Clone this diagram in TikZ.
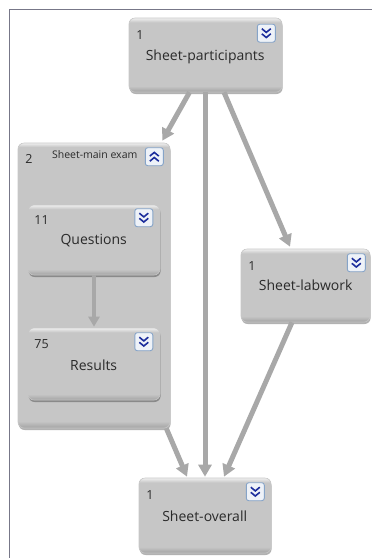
\documentclass[tikz,border=0pt]{standalone}
\usepackage{fontspec}
\setmainfont{Open Sans}
\usetikzlibrary{arrows.meta,calc,shadows}
\definecolor{shtop}{HTML}{EFEFEF}
\definecolor{shmid}{HTML}{C6C6C6}
\definecolor{shbot}{HTML}{A2A2A2}
\definecolor{arr}{HTML}{A8A8A8}
\definecolor{frm}{HTML}{777788}
\definecolor{txt}{HTML}{2A2A2A}
\definecolor{chev}{HTML}{1C2D9C}
\definecolor{icb}{HTML}{86A4C8}
\definecolor{icf}{HTML}{EEF2F8}
\pgfdeclareverticalshading{boxshade}{100bp}{color(0bp)=(shbot); color(25bp)=(shbot); color(29bp)=(shmid); color(72bp)=(shmid); color(75bp)=(shtop); color(100bp)=(shtop)}
\pgfdeclareverticalshading{grpshade}{100bp}{color(0bp)=(shbot); color(25bp)=(shbot); color(26.2bp)=(shmid); color(74.3bp)=(shmid); color(75bp)=(shtop); color(100bp)=(shtop)}
\tikzset{
  sheet/.style={rounded corners=6pt, draw=gray!45, line width=0.6pt, shading=boxshade,
    drop shadow={shadow xshift=0.6pt, shadow yshift=-2pt, opacity=0.3, fill=black}},
  grp/.style={sheet, shading=grpshade},
  num/.style={anchor=west, inner sep=0pt, text=txt, font=\fontsize{12.5}{14}\selectfont},
  title/.style={inner sep=0pt, text=txt, font=\fontsize{14}{16}\selectfont},
  gtitle/.style={inner sep=0pt, text=txt, font=\fontsize{10.5}{12}\selectfont},
  conn/.style={draw=arr, line width=5pt, -{Triangle[width=13pt,length=12pt]}},
  thinconn/.style={draw=arr, line width=4pt, -{Triangle[width=11pt,length=10pt]}},
  pics/btn/.style={code={
    \draw[icb, line width=0.9pt, fill=icf, rounded corners=2.5pt] (-9,-9) rectangle (9,9);
    \draw[chev, line width=1.6pt, line join=miter] (-4.5,-4.5) -- (0,-0.8) -- (4.5,-4.5);
    \draw[chev, line width=1.6pt, line join=miter] (-4.5,0.6) -- (0,4.3) -- (4.5,0.6);
  }}
}
\begin{document}
\begin{tikzpicture}[x=1pt,y=-1pt]
\useasboundingbox (0,0) rectangle (372,558);
\draw[frm, line width=1pt] (9.5,558) -- (9.5,9.5) -- (372,9.5);

% nodes
\node[sheet, minimum width=153pt, minimum height=74pt] (P) at (205.5,55) {};
\node[grp, minimum width=152pt, minimum height=285pt] (G) at (94,285.5) {};
\node[sheet, minimum width=132pt, minimum height=70pt] (Q) at (94,240) {};
\node[sheet, minimum width=132pt, minimum height=72pt] (R) at (94,364) {};
\node[sheet, minimum width=129pt, minimum height=73pt] (L) at (305.5,285.5) {};
\node[sheet, minimum width=132pt, minimum height=75pt] (O) at (205,515.5) {};

% texts
\node[num] (Pn) at ($(P.north west)+(7.5,17.5)$) {1};
\node[title] (Pt) at ($(P.north west)+(76.5,39)$) {Sheet-participants};
\node[num] (Gn) at ($(G.north west)+(7.5,16)$) {2};
\node[gtitle] (Gt) at ($(G.north west)+(77,12)$) {Sheet-main exam};
\node[num] (Qn) at ($(Q.north west)+(6.5,15)$) {11};
\node[title] (Qt) at ($(Q.north west)+(66,36)$) {Questions};
\node[num] (Rn) at ($(R.north west)+(6.5,16)$) {75};
\node[title] (Rt) at ($(R.north west)+(66,38)$) {Results};
\node[num] (Ln) at ($(L.north west)+(7.5,17)$) {1};
\node[title] (Lt) at ($(L.north west)+(65,37)$) {Sheet-labwork};
\node[num] (On) at ($(O.north west)+(7.5,17)$) {1};
\node[title] (Ot) at ($(O.north west)+(66,39)$) {Sheet-overall};

% buttons
\pic at ($(P.north east)+(-16,15.5)$) {btn};
\pic[yscale=-1] at ($(G.north east)+(-16,14)$) {btn};
\pic at ($(Q.north east)+(-16.5,13)$) {btn};
\pic at ($(R.north east)+(-16.5,14)$) {btn};
\pic at ($(L.north east)+(-14,14)$) {btn};
\pic at ($(O.north east)+(-16,14)$) {btn};

% connectors
\draw[conn] ($(P.south)+(-16,0)$) -- ($(G.north east)+(-8,-2)$);
\draw[conn] (O.north |- P.south) -- ($(O.north)+(0,-1)$);
\draw[conn] ($(P.south)+(18.5,0)$) -- ($(L.north)+(-15.5,-2)$);
\draw[conn] ($(G.south east)+(-4,0)$) -- ($(O.north)+(-18,-1)$);
\draw[conn] ($(L.south)+(-13.5,0)$) -- ($(O.north)+(19,-1)$);
\draw[thinconn] (Q.south) -- ($(R.north)+(0,-1)$);
\end{tikzpicture}
\end{document}
